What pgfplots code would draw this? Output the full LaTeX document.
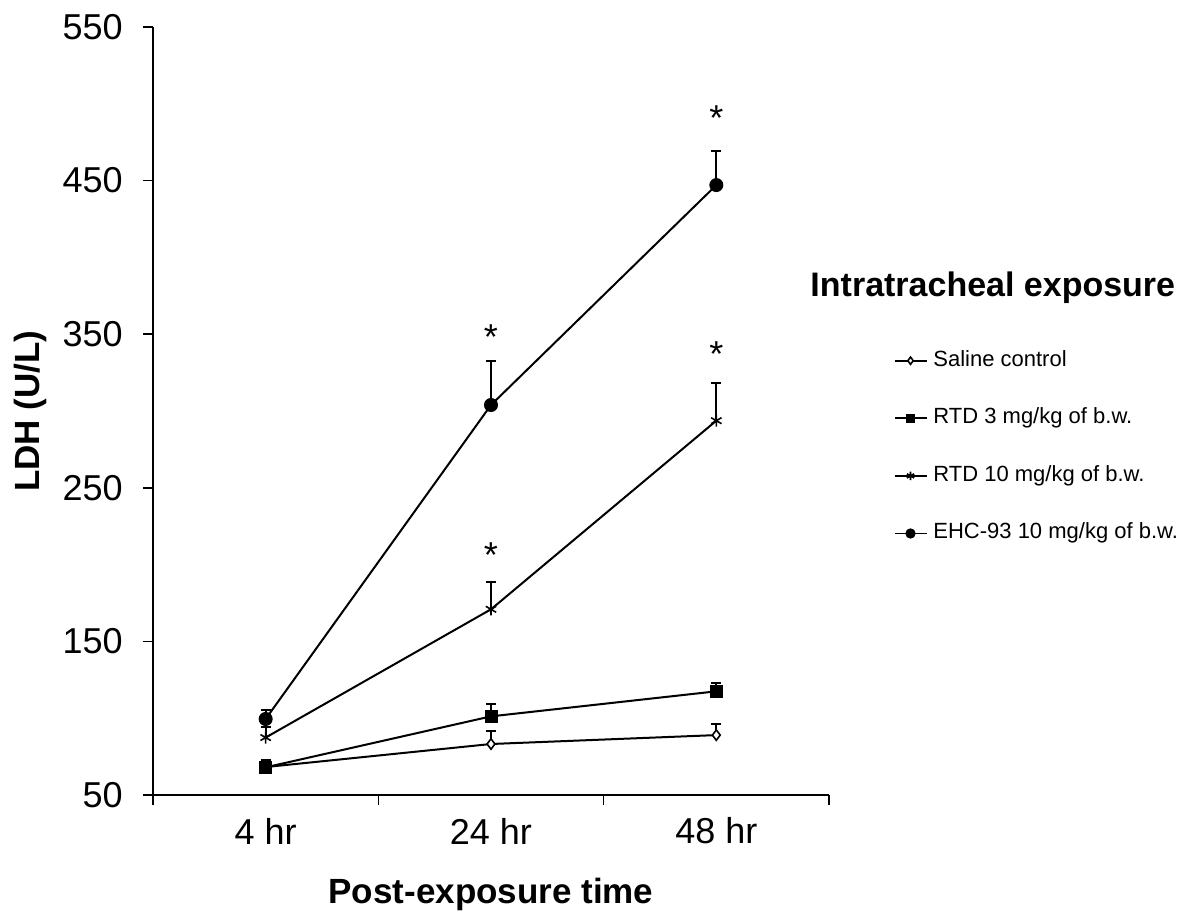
\documentclass[border=0pt]{standalone}
\usepackage{fontspec}
\setmainfont{Liberation Sans}
\usepackage{pgfplots}
\pgfplotsset{compat=1.18}
\begin{document}
\begin{tikzpicture}
\useasboundingbox (-76.5pt,-63pt) rectangle (520.5pt,397.5pt);
\begin{axis}[
  scale only axis,
  width=338pt, height=384pt,
  at={(0,0)}, anchor=south west,
  xmin=0, xmax=3,
  ymin=50, ymax=550,
  ytick={50,150,250,350,450,550},
  xtick={0,1,2,3},
  xticklabels={},
  extra x ticks={0.5,1.5,2.5},
  extra x tick labels={4 hr,24 hr,48 hr},
  extra x tick style={major tick length=0pt, grid=none},
  axis lines=left,
  axis line style={-, line width=0.75pt},
  tick style={line width=0.75pt, black},
  tick align=outside,
  major tick length=5pt,
  /pgf/number format/assume math mode=true,
  tick label style={font=\fontsize{18}{21}\selectfont},
  yticklabel style={anchor=east, inner sep=0pt, xshift=-10pt},
  xticklabel style={anchor=center, inner sep=0pt, yshift=-18pt},
  xlabel={Post-exposure time},
  ylabel={LDH (U/L)},
  label style={font=\bfseries\fontsize{17.5}{21}\selectfont},
  xlabel style={at={(axis description cs:0.5,-0.13)}, anchor=center},
  ylabel style={at={(axis description cs:-0.182,0.5)}, anchor=center},
  clip=false,
  legend style={at={(rel axis cs:1.095,0.5797)}, anchor=north west,
    draw=none, fill=none, inner sep=0pt,
    font=\fontsize{11}{13}\selectfont,
    nodes={inner sep=0pt, text height=8pt, text depth=2.5pt, anchor=west},
    row sep=18.3pt, column sep=3pt},
  legend cell align=left,
  legend image code/.code={\draw[mark repeat=2,mark phase=2,#1, line width=0.9pt, every mark/.append style={scale=0.7}] plot coordinates {(0pt,0pt) (8pt,0pt) (16pt,0pt)};},
  every axis plot/.append style={black, line width=1pt,
    error bars/y dir=plus, error bars/y explicit,
    error bars/error bar style={line width=1pt, black},
    error bars/error mark options={line width=1pt, black, mark size=2.5pt, rotate=90}},
]
% Saline control
\addplot[mark=diamond*, mark options={fill=white, line width=0.8pt, mark size=2.6pt}]
  coordinates {(0.5,68.2) +- (0,3.5) (1.5,83.2) +- (0,8.5) (2.5,89) +- (0,7)};
\addlegendentry{Saline control}
% RTD 3
\addplot[mark=square*, mark options={mark size=3pt, line width=0.5pt}]
  coordinates {(0.5,68) +- (0,5) (1.5,101.2) +- (0,8) (2.5,117.5) +- (0,5.2)};
\addlegendentry{RTD 3 mg/kg of b.w.}
% RTD 10
\addplot[mark=asterisk, mark options={mark size=3pt, line width=0.8pt}]
  coordinates {(0.5,87.4) +- (0,7) (1.5,170.9) +- (0,17.8) (2.5,293.7) +- (0,24.7)};
\addlegendentry{RTD 10 mg/kg of b.w.}
% EHC-93
\addplot[mark=*, mark options={mark size=3pt}]
  coordinates {(0.5,99.5) +- (0,5.8) (1.5,303.9) +- (0,28.4) (2.5,447.1) +- (0,22.2)};
\addlegendentry{EHC-93 10 mg/kg of b.w.}
% significance asterisks
\addplot[only marks, mark=text, text mark={\fontsize{18}{18}\selectfont *}, error bars/y dir=none, forget plot]
  coordinates {(1.5,348) (1.5,206.5) (2.5,491) (2.5,337)};
\node[anchor=west, font=\bfseries\fontsize{17}{20}\selectfont, inner sep=0pt]
  at (rel axis cs:0.972,0.661) {Intratracheal exposure};
\end{axis}
\end{tikzpicture}
\end{document}
